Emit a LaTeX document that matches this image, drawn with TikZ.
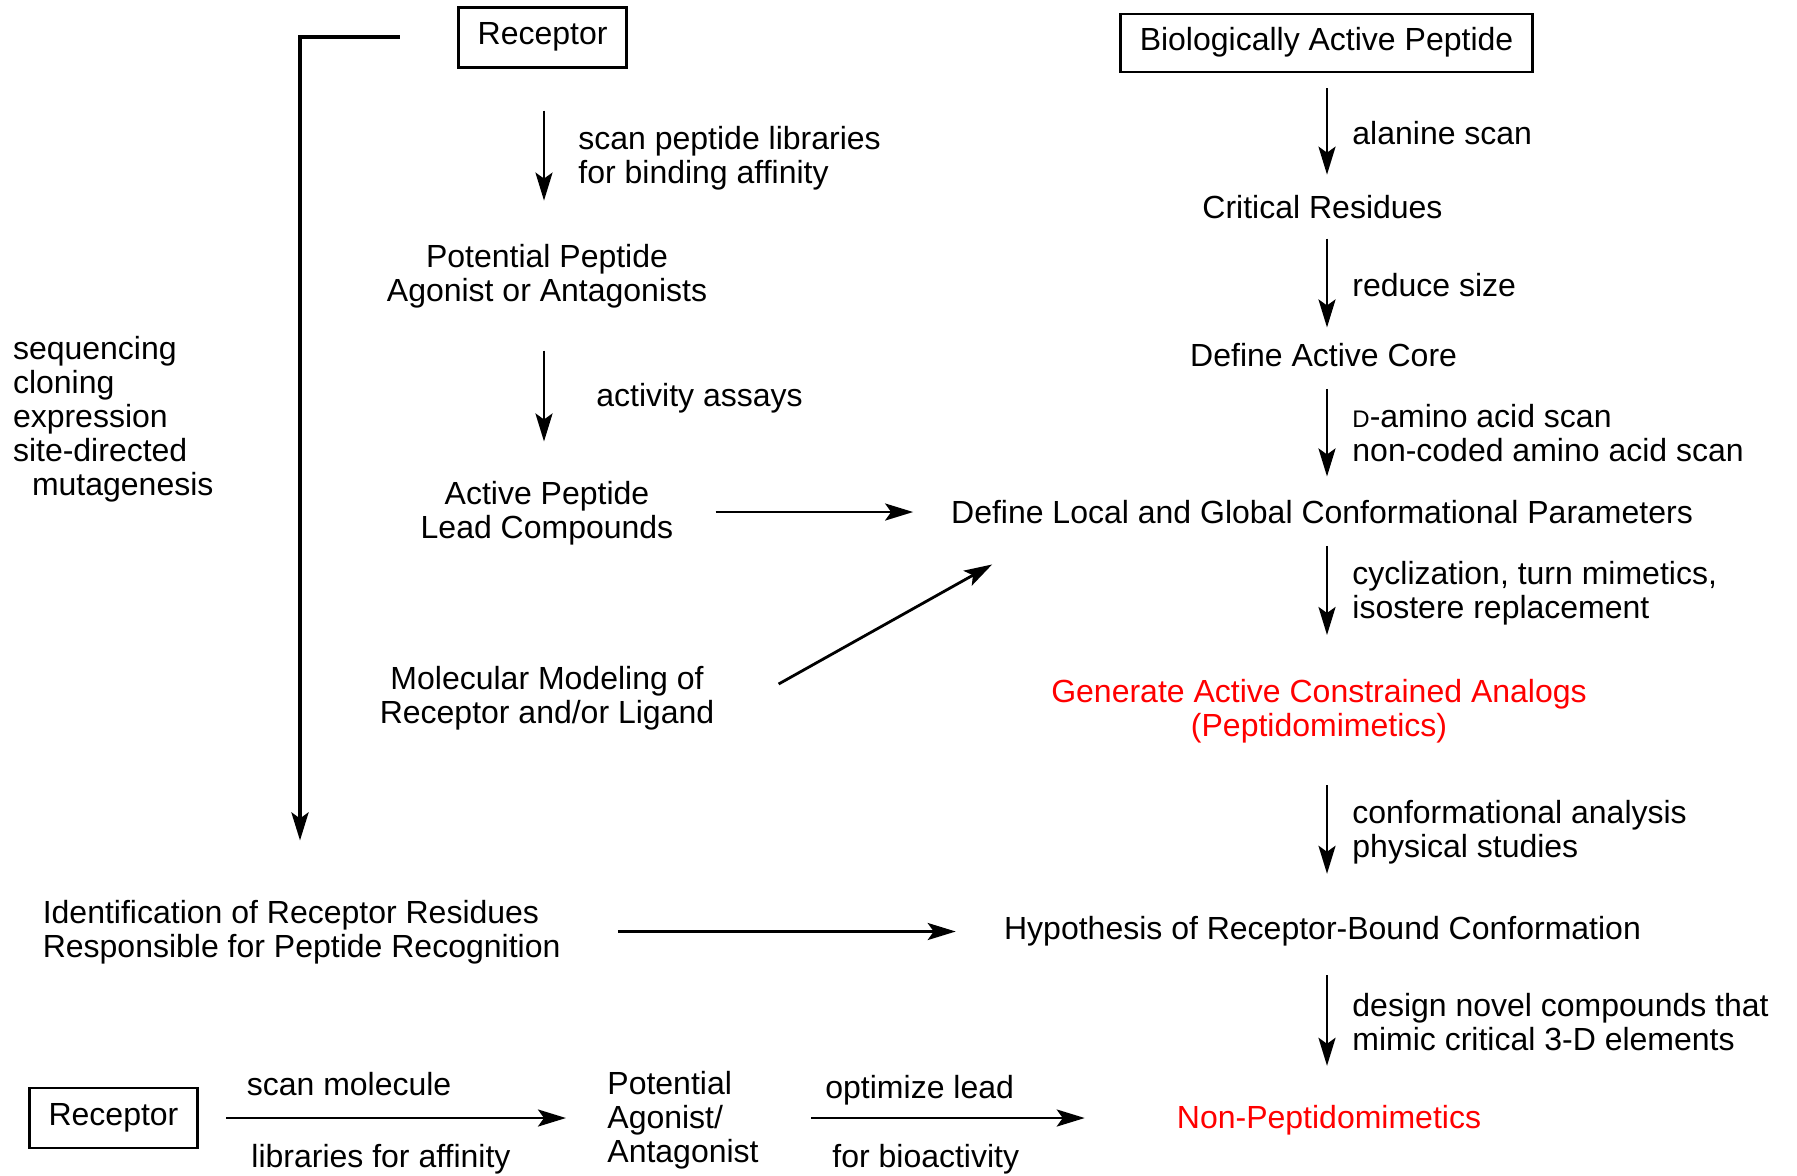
\documentclass[tikz,border=0pt]{standalone}
\usepackage{fontspec}
\setmainfont{Liberation Sans}
\usetikzlibrary{arrows.meta,calc}
\tikzset{
  arr/.style={-{Stealth[length=14pt,width=8.5pt,inset=3pt]}, line width=1.4pt},
  boxed/.style={draw, line width=1.3pt, inner xsep=9.5pt, inner ysep=0pt, minimum height=30pt,
    text height=0.72em, text depth=0pt},
  stage/.style={inner sep=0pt, align=center},
  lbl/.style={inner sep=0pt, align=left, anchor=west},
  hit/.style={stage, text=red}
}
\begin{document}
\begin{tikzpicture}[x=0.5pt, y=-0.5pt, font=\fontsize{16}{17}\selectfont]
\useasboundingbox (0,0) rectangle (1797,1175);

% Columnas
\coordinate (lcol) at (544,0);
\coordinate (rcol) at (1327,0);
\coordinate (brx) at (300,0);

% Receptor y biblioteca de peptidos
\node[boxed] (rec1) at (542.6,37.2) {Receptor};
\node[lbl] (scanlib) at (578,158.3) {scan peptide libraries\\for binding affinity};
\node[stage] (pot) at (547,276.3) {Potential Peptide\\Agonist or Antagonists};
\node[lbl] (assay) at (596,398.5) {activity assays};
\node[stage] (lead) at (547,512.8) {Active Peptide\\Lead Compounds};
\node[stage] (model) at (547,697.9) {Molecular Modeling of\\Receptor and/or Ligand};

\node[lbl] (seq) at (12.6,419) {sequencing\\cloning\\expression\\site-directed\\\hspace*{9.5pt}mutagenesis};
\node[lbl] (ident) at (42.4,932.3) {Identification of Receptor Residues\\Responsible for Peptide Recognition};

% Peptido activo
\node[boxed, minimum height=29pt] (bio) at (1326.5,43) {Biologically Active Peptide};
\node[lbl] (alanine) at (1352,133) {alanine scan};
\node[stage] (crit) at (1322.5,207.4) {Critical Residues};
\node[lbl] (reduce) at (1352,285) {reduce size};
\node[stage] (core) at (1323.6,355) {Define Active Core};
\node[lbl] (damino) at (1352,433) {{\fontsize{12}{12}\selectfont D}-amino acid scan\\non-coded amino acid scan};
\node[stage] (local) at (1322,512) {Define Local and Global Conformational Parameters};
\node[lbl] (cycl) at (1352,593) {cyclization, turn mimetics,\\isostere replacement};
\node[hit] (gen) at (1319,711.7) {Generate Active Constrained Analogs\\(Peptidomimetics)};
\node[lbl] (confan) at (1352,832.7) {conformational analysis\\physical studies};
\node[stage] (hyp) at (1322.5,931.5) {Hypothesis of Receptor-Bound Conformation};
\node[lbl] (design) at (1352,1022.2) {design novel compounds that\\mimic critical 3-D elements};
\node[hit] (nonpep) at (1329,1120.5) {Non-Peptidomimetics};

% Fila inferior
\node[boxed] (rec2) at (113.5,1118) {Receptor};
\node[lbl] (scanmol) at (246.4,1084) {scan molecule};
\node[lbl] (libaff) at (251,1159.5) {libraries for affinity};
\node[lbl] (potag) at (607,1119.8) {Potential\\Agonist/\\Antagonist};
\node[lbl] (optlead) at (825,1089.9) {optimize lead};
\node[lbl] (forbio) at (832,1159.5) {for bioactivity};

% Flechas verticales
\foreach \a/\b/\s/\t in {rec1/pot/21/21.7, pot/lead/21/19.5}
	\draw[arr, shorten <=\s pt, shorten >=\t pt] (\a.south -| lcol) -- (\b.north -| lcol);

\foreach \a/\b/\s/\t in {bio/crit/7.5/10.3, crit/core/9.5/7.7, core/local/10.9/11.7,
		local/gen/10.9/22.2, gen/hyp/20.5/21.2, hyp/nonpep/14.2/19.7}
	\draw[arr, shorten <=\s pt, shorten >=\t pt] (\a.south -| rcol) -- (\b.north -| rcol);

% Flechas horizontales
\draw[arr, shorten <=21pt, shorten >=18.8pt] (lead.east |- local) -- (local.west);
\draw[arr] ($(model.east)+(64,-13.9)$) -- ($(local.south west)+(41.4,40.3)$);
\draw[arr, shorten <=28.5pt, shorten >=24pt] (ident.east |- hyp) -- (hyp.west);
\draw[arr, shorten <=13.75pt, shorten >=20.5pt] (rec2.east) -- (rec2.east -| potag.west);
\draw[arr, shorten <=26pt, shorten >=45.9pt] (potag.east |- rec2.east) -- (nonpep.west |- rec2.east);

% Corchete
\draw[arr, line width=2pt] ([xshift=-28.75pt]rec1.west) -| ([yshift=29.75pt]ident.north -| brx);
\end{tikzpicture}
\end{document}
